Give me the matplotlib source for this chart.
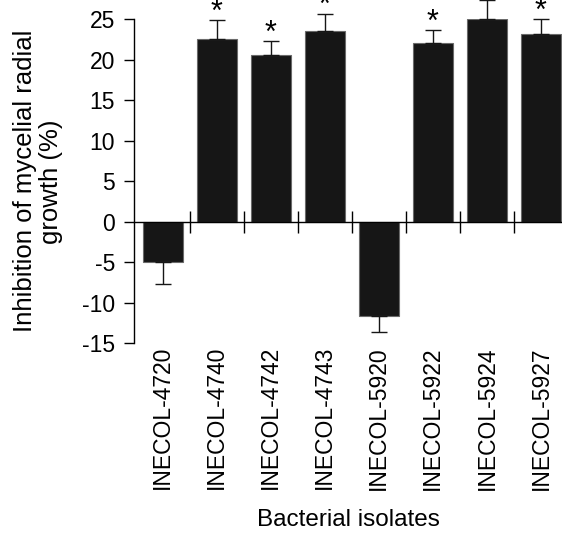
import matplotlib
matplotlib.use('Agg')
import matplotlib.pyplot as plt

plt.rcParams['font.family'] = ['Liberation Sans', 'DejaVu Sans']

# Datos
isolates = ['INECOL-4720', 'INECOL-4740', 'INECOL-4742', 'INECOL-4743',
            'INECOL-5920', 'INECOL-5922', 'INECOL-5924', 'INECOL-5927']
inhibition = [-5.0, 22.6, 20.6, 23.6, -11.6, 22.1, 25.1, 23.2]
err = [2.7, 2.3, 1.7, 2.1, 2.0, 1.6, 2.3, 1.8]
significant = [False, True, True, True, False, True, True, True]

fig = plt.figure(figsize=(5.62, 5.38), dpi=100)
ax = fig.add_axes([0.2384, 0.3619, 0.7616, 0.6022])

x = list(range(len(isolates)))
ax.bar(x, inhibition, width=0.74, color='#161616', edgecolor='#6a6a6a',
       linewidth=0.8, zorder=2)

# barras de error solo hacia afuera
lower = [e if v < 0 else 0 for v, e in zip(inhibition, err)]
upper = [e if v >= 0 else 0 for v, e in zip(inhibition, err)]
ax.errorbar(x, inhibition, yerr=[lower, upper], fmt='none', ecolor='#161616',
            elinewidth=1.0, capsize=6, capthick=1.0, zorder=3, clip_on=False)

for xi, v, e, s in zip(x, inhibition, err, significant):
    if s:
        ax.text(xi, v + e + 0.9, '*', ha='center', va='center', fontsize=22,
                clip_on=False)

ax.set_ylim(-15, 25)
ax.set_xlim(-0.53, 7.39)
ax.set_yticks([-15, -10, -5, 0, 5, 10, 15, 20, 25])
ax.set_yticklabels(['-15', '-10', '-5', '0', '5', '10', '15', '20', '25'])
ax.tick_params(axis='y', labelsize=16.5, length=7, width=1, pad=6.5)

ax.spines['top'].set_visible(False)
ax.spines['right'].set_visible(False)
ax.spines['bottom'].set_position(('data', 0))
ax.spines['left'].set_linewidth(1)
ax.spines['bottom'].set_linewidth(1)

ax.set_xticks([0.5, 1.5, 2.5, 3.5, 4.5, 5.5, 6.5])
ax.tick_params(axis='x', direction='inout', length=16, width=1, labelbottom=False)

sec = ax.secondary_xaxis('bottom')
sec.set_xticks(x)
sec.set_xticklabels(isolates, rotation=90, fontsize=16.5)
sec.tick_params(length=0, pad=2)
sec.spines['bottom'].set_visible(False)
sec.set_xlabel('Bacterial isolates', fontsize=17.5, labelpad=14)

ax.set_ylabel('Inhibition of mycelial radial\ngrowth (%)', fontsize=18.5,
              linespacing=1.1, labelpad=14)

fig.savefig('out.png', dpi=100)
